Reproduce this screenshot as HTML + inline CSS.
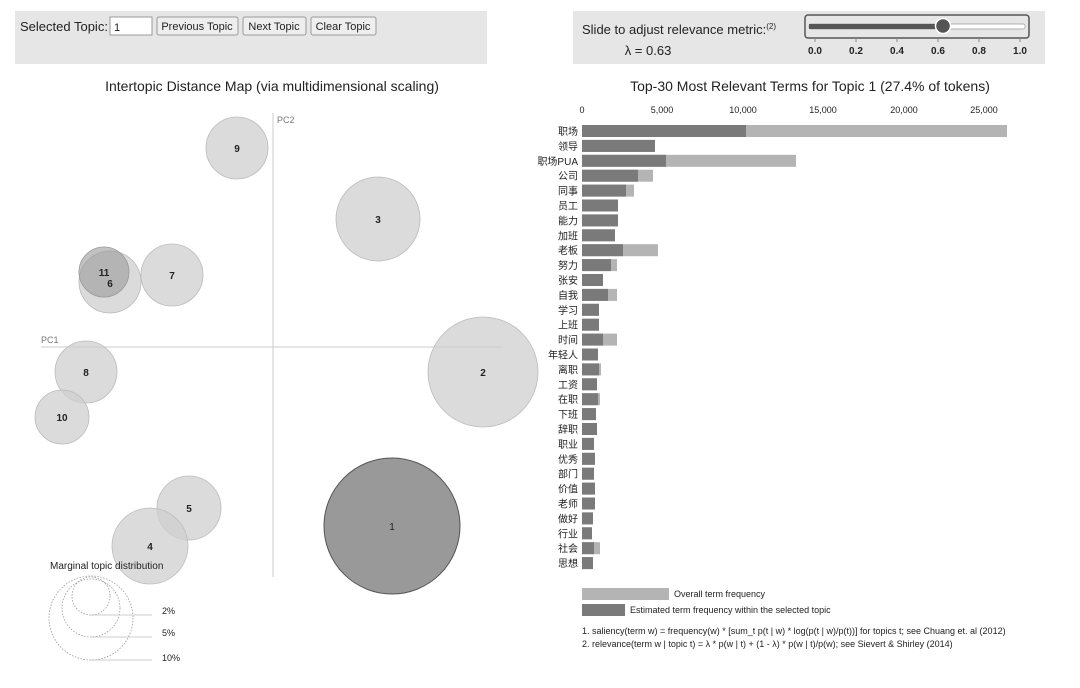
<!DOCTYPE html>
<html><head><meta charset="utf-8"><style>
html,body{margin:0;padding:0;background:#fff;}
svg{display:block;font-family:"Liberation Sans","Noto Sans CJK SC",sans-serif;}
</style></head><body>
<svg width="1080" height="688" viewBox="0 0 1080 688" xmlns="http://www.w3.org/2000/svg">
<rect x="15" y="11" width="472" height="53" fill="#e6e6e6"/>
<text x="20" y="31" font-size="13" fill="#222">Selected Topic:</text>
<rect x="110" y="17" width="42" height="18" fill="#fff" stroke="#999"/>
<text x="114" y="31" font-size="11" fill="#222">1</text>
<rect x="157" y="17" width="81" height="18" rx="2" fill="#eee" stroke="#999"/>
<text x="197" y="30" font-size="11" fill="#222" text-anchor="middle">Previous Topic</text>
<rect x="243" y="17" width="63" height="18" rx="2" fill="#eee" stroke="#999"/>
<text x="274" y="30" font-size="11" fill="#222" text-anchor="middle">Next Topic</text>
<rect x="311" y="17" width="65" height="18" rx="2" fill="#eee" stroke="#999"/>
<text x="343" y="30" font-size="11" fill="#222" text-anchor="middle">Clear Topic</text>

<rect x="573" y="11" width="472" height="53" fill="#e6e6e6"/>
<text x="582" y="34" font-size="13" fill="#222">Slide to adjust relevance metric:<tspan font-size="8" dy="-5">(2)</tspan></text>
<text x="648" y="55" font-size="13" fill="#222" text-anchor="middle">λ = 0.63</text>
<rect x="805" y="15" width="224" height="23" rx="3" fill="#e6e6e6" stroke="#555" stroke-width="1.5"/>
<rect x="809" y="24" width="216" height="5" rx="2" fill="#fff" stroke="#999" stroke-width="0.7"/>
<rect x="809" y="24" width="134" height="5" fill="#555"/>
<circle cx="943" cy="26" r="7.5" fill="#555" stroke="#fff" stroke-width="1.5"/>
<g stroke="#888" stroke-width="1"><line x1="815" y1="38" x2="815" y2="42"/><line x1="856" y1="38" x2="856" y2="42"/><line x1="897" y1="38" x2="897" y2="42"/><line x1="938" y1="38" x2="938" y2="42"/><line x1="979" y1="38" x2="979" y2="42"/><line x1="1020" y1="38" x2="1020" y2="42"/></g>
<g font-size="10" font-weight="bold" fill="#222" text-anchor="middle"><text x="815" y="54">0.0</text><text x="856" y="54">0.2</text><text x="897" y="54">0.4</text><text x="938" y="54">0.6</text><text x="979" y="54">0.8</text><text x="1020" y="54">1.0</text></g>

<text x="272" y="91" font-size="14" fill="#222" text-anchor="middle">Intertopic Distance Map (via multidimensional scaling)</text>
<text x="810" y="91" font-size="14" fill="#222" text-anchor="middle">Top-30 Most Relevant Terms for Topic 1 (27.4% of tokens)</text>

<line x1="273" y1="113" x2="273" y2="577" stroke="#ccc"/>
<line x1="41" y1="347" x2="503" y2="347" stroke="#ccc"/>
<text x="277" y="123" font-size="9" fill="#777">PC2</text>
<text x="41" y="343" font-size="9" fill="#777">PC1</text>
<g fill="#cfcfcf" fill-opacity="0.75" stroke="#bbb" stroke-width="0.8">
<circle cx="237" cy="148" r="31"/>
<circle cx="378" cy="219" r="42"/>
<circle cx="110" cy="282" r="31"/>
<circle cx="172" cy="275" r="31"/>
<circle cx="86" cy="372" r="31"/>
<circle cx="62" cy="417" r="27"/>
<circle cx="483" cy="372" r="55"/>
<circle cx="189" cy="508" r="32"/>
<circle cx="150" cy="546" r="38"/>
</g>
<circle cx="104" cy="272" r="25" fill="#999" fill-opacity="0.6" stroke="#999" stroke-width="0.8"/>
<circle cx="392" cy="526" r="68" fill="#999" stroke="#555" stroke-width="1"/>
<g font-size="10" font-weight="bold" fill="#222" text-anchor="middle">
<text x="237" y="152">9</text><text x="378" y="223">3</text><text x="104" y="276">11</text><text x="110" y="287">6</text>
<text x="172" y="279">7</text><text x="86" y="376">8</text><text x="62" y="421">10</text><text x="483" y="376">2</text>
<text x="189" y="512">5</text><text x="150" y="550">4</text><text x="392" y="530" font-weight="normal">1</text></g>

<text x="50" y="569" font-size="10" fill="#222">Marginal topic distribution</text>
<g fill="none" stroke="#999" stroke-dasharray="1.5,1.5" stroke-width="0.8">
<circle cx="91" cy="596" r="19"/><circle cx="91" cy="608" r="29"/><circle cx="91" cy="618" r="42"/></g>
<g stroke="#bbb" stroke-width="0.8"><line x1="91" y1="615" x2="152" y2="615"/><line x1="91" y1="637" x2="152" y2="637"/><line x1="91" y1="660" x2="152" y2="660"/></g>
<g font-size="9" fill="#222"><text x="162" y="614">2%</text><text x="162" y="636">5%</text><text x="162" y="661">10%</text></g>

<g font-size="9" fill="#222" text-anchor="middle"><text x="582" y="113">0</text><text x="662" y="113">5,000</text><text x="743" y="113">10,000</text><text x="823" y="113">15,000</text><text x="904" y="113">20,000</text><text x="984" y="113">25,000</text></g>

<g fill="#b4b4b4">
<rect x="582" y="125" width="425" height="12"/>
<rect x="582" y="139.9" width="73" height="12"/>
<rect x="582" y="154.8" width="214" height="12"/>
<rect x="582" y="169.7" width="71" height="12"/>
<rect x="582" y="184.6" width="52" height="12"/>
<rect x="582" y="199.5" width="36" height="12"/>
<rect x="582" y="214.4" width="36" height="12"/>
<rect x="582" y="229.3" width="33" height="12"/>
<rect x="582" y="244.2" width="76" height="12"/>
<rect x="582" y="259.1" width="35" height="12"/>
<rect x="582" y="274" width="21" height="12"/>
<rect x="582" y="288.9" width="35" height="12"/>
<rect x="582" y="303.8" width="17" height="12"/>
<rect x="582" y="318.7" width="17" height="12"/>
<rect x="582" y="333.6" width="35" height="12"/>
<rect x="582" y="348.5" width="16" height="12"/>
<rect x="582" y="363.4" width="19" height="12"/>
<rect x="582" y="378.3" width="15" height="12"/>
<rect x="582" y="393.2" width="18" height="12"/>
<rect x="582" y="408.1" width="14" height="12"/>
<rect x="582" y="423" width="15" height="12"/>
<rect x="582" y="437.9" width="12" height="12"/>
<rect x="582" y="452.8" width="13" height="12"/>
<rect x="582" y="467.7" width="12" height="12"/>
<rect x="582" y="482.6" width="13" height="12"/>
<rect x="582" y="497.5" width="13" height="12"/>
<rect x="582" y="512.4" width="11" height="12"/>
<rect x="582" y="527.3" width="10" height="12"/>
<rect x="582" y="542.2" width="18" height="12"/>
<rect x="582" y="557.1" width="11" height="12"/>
</g>
<g fill="#7a7a7a">
<rect x="582" y="125" width="164" height="12"/>
<rect x="582" y="139.9" width="73" height="12"/>
<rect x="582" y="154.8" width="84" height="12"/>
<rect x="582" y="169.7" width="56" height="12"/>
<rect x="582" y="184.6" width="44" height="12"/>
<rect x="582" y="199.5" width="36" height="12"/>
<rect x="582" y="214.4" width="36" height="12"/>
<rect x="582" y="229.3" width="33" height="12"/>
<rect x="582" y="244.2" width="41" height="12"/>
<rect x="582" y="259.1" width="29" height="12"/>
<rect x="582" y="274" width="21" height="12"/>
<rect x="582" y="288.9" width="26" height="12"/>
<rect x="582" y="303.8" width="17" height="12"/>
<rect x="582" y="318.7" width="17" height="12"/>
<rect x="582" y="333.6" width="21" height="12"/>
<rect x="582" y="348.5" width="16" height="12"/>
<rect x="582" y="363.4" width="17" height="12"/>
<rect x="582" y="378.3" width="15" height="12"/>
<rect x="582" y="393.2" width="16" height="12"/>
<rect x="582" y="408.1" width="14" height="12"/>
<rect x="582" y="423" width="15" height="12"/>
<rect x="582" y="437.9" width="12" height="12"/>
<rect x="582" y="452.8" width="13" height="12"/>
<rect x="582" y="467.7" width="12" height="12"/>
<rect x="582" y="482.6" width="13" height="12"/>
<rect x="582" y="497.5" width="13" height="12"/>
<rect x="582" y="512.4" width="11" height="12"/>
<rect x="582" y="527.3" width="10" height="12"/>
<rect x="582" y="542.2" width="12" height="12"/>
<rect x="582" y="557.1" width="11" height="12"/>
</g>
<g font-size="10" fill="#222" text-anchor="end">
<text x="578" y="135">职场</text>
<text x="578" y="149.9">领导</text>
<text x="578" y="164.8">职场PUA</text>
<text x="578" y="179.7">公司</text>
<text x="578" y="194.6">同事</text>
<text x="578" y="209.5">员工</text>
<text x="578" y="224.4">能力</text>
<text x="578" y="239.3">加班</text>
<text x="578" y="254.2">老板</text>
<text x="578" y="269.1">努力</text>
<text x="578" y="284">张安</text>
<text x="578" y="298.9">自我</text>
<text x="578" y="313.8">学习</text>
<text x="578" y="328.7">上班</text>
<text x="578" y="343.6">时间</text>
<text x="578" y="358.5">年轻人</text>
<text x="578" y="373.4">离职</text>
<text x="578" y="388.3">工资</text>
<text x="578" y="403.2">在职</text>
<text x="578" y="418.1">下班</text>
<text x="578" y="433">辞职</text>
<text x="578" y="447.9">职业</text>
<text x="578" y="462.8">优秀</text>
<text x="578" y="477.7">部门</text>
<text x="578" y="492.6">价值</text>
<text x="578" y="507.5">老师</text>
<text x="578" y="522.4">做好</text>
<text x="578" y="537.3">行业</text>
<text x="578" y="552.2">社会</text>
<text x="578" y="567.1">思想</text>
</g>

<rect x="582" y="588" width="87" height="12" fill="#b4b4b4"/>
<text x="674" y="597" font-size="9" fill="#222">Overall term frequency</text>
<rect x="582" y="604" width="43" height="12" fill="#7a7a7a"/>
<text x="630" y="613" font-size="9" fill="#222">Estimated term frequency within the selected topic</text>
<text x="582" y="634" font-size="9" fill="#222">1. saliency(term w) = frequency(w) * [sum_t p(t | w) * log(p(t | w)/p(t))] for topics t; see Chuang et. al (2012)</text>
<text x="582" y="647" font-size="9" fill="#222">2. relevance(term w | topic t) = λ * p(w | t) + (1 - λ) * p(w | t)/p(w); see Sievert &amp; Shirley (2014)</text>
</svg>
</body></html>
